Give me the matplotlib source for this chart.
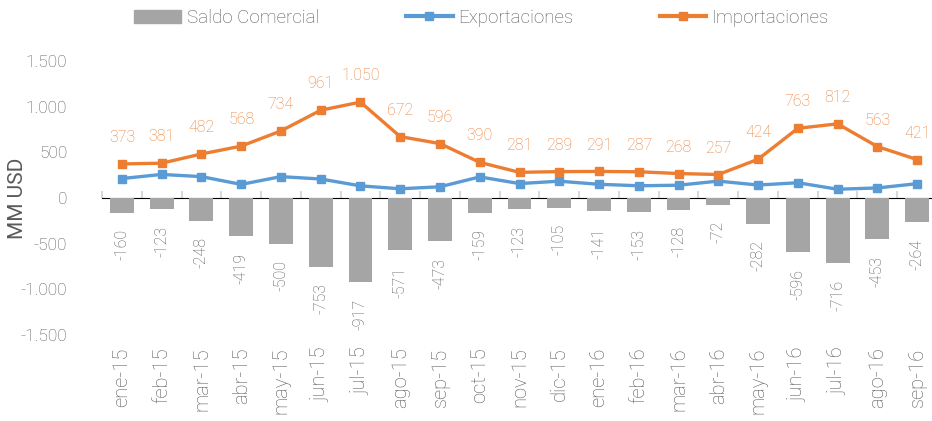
import numpy as np
import matplotlib.pyplot as plt
from matplotlib.patches import Patch
from matplotlib.lines import Line2D

# data (MM USD)
meses = ['ene-15', 'feb-15', 'mar-15', 'abr-15', 'may-15', 'jun-15', 'jul-15',
         'ago-15', 'sep-15', 'oct-15', 'nov-15', 'dic-15', 'ene-16', 'feb-16',
         'mar-16', 'abr-16', 'may-16', 'jun-16', 'jul-16', 'ago-16', 'sep-16']
importaciones = [373, 381, 482, 568, 734, 961, 1050, 672, 596, 390, 281, 289,
                 291, 287, 268, 257, 424, 763, 812, 563, 421]
saldo = [-160, -123, -248, -419, -500, -753, -917, -571, -473, -159, -123, -105,
         -141, -153, -128, -72, -282, -596, -716, -453, -264]
exportaciones = [213, 258, 234, 149, 234, 208, 133, 101, 123, 231, 158, 184,
                 150, 134, 140, 185, 142, 167, 96, 110, 157]

GRIS = '#A5A5A5'
AZUL = '#5B9BD5'
NARANJA = '#ED7D31'
TEXTO = '#595959'

plt.rcParams['font.family'] = ['Roboto', 'DejaVu Sans']
plt.rcParams['font.weight'] = 'light'

fig = plt.figure(figsize=(9.32, 4.21), dpi=100)
ax = fig.add_axes([102 / 932, 1 - 335 / 421, 835 / 932, 274 / 421])

x = np.arange(len(meses))
ax.bar(x, saldo, width=0.6, color=GRIS, zorder=2)
ax.plot(x, exportaciones, color=AZUL, lw=2.4, marker='s', ms=6, zorder=4)
ax.plot(x, importaciones, color=NARANJA, lw=2.4, marker='s', ms=6, zorder=4)

for xi, v in zip(x, importaciones):
    ax.annotate(f'{v:,}'.replace(',', '.'), (xi, v), xytext=(0, 19),
                textcoords='offset points', ha='center', va='center',
                fontsize=11.5, color=NARANJA)
for xi, v in zip(x, saldo):
    ax.annotate(f'{v}', (xi, v), xytext=(0, -12), textcoords='offset points',
                ha='center', va='top', rotation=90, fontsize=11.5, color=TEXTO)

ax.set_xlim(-0.5, len(meses) - 0.5)
ax.set_ylim(-1500, 1500)
ax.set_yticks([-1500, -1000, -500, 0, 500, 1000, 1500])
ax.set_yticklabels(['-1.500', '-1.000', '-500', '0', '500', '1.000', '1.500'])
ax.set_xticks(x)
ax.set_xticklabels(meses, rotation=90)
ax.tick_params(axis='both', length=0, labelcolor=TEXTO)
ax.tick_params(axis='x', pad=9, labelsize=14.5)
ax.tick_params(axis='y', pad=25, labelsize=12.5)
for s in ax.spines.values():
    s.set_visible(False)
ax.set_ylabel('MM USD', fontsize=15, color=TEXTO)
ax.yaxis.set_label_coords(-0.09, 0.5)

# zero axis with category boundary ticks
sec = ax.secondary_xaxis(0.5)
sec.set_xticks(np.arange(len(meses) + 1) - 0.5)
sec.set_xticklabels([])
sec.tick_params(length=5, width=1.5, color='#D9D9D9')
sec.spines['bottom'].set_color('#D9D9D9')
sec.spines['bottom'].set_linewidth(1.8)

handles = [Patch(color=GRIS),
           Line2D([], [], color=AZUL, lw=3, marker='s', ms=6),
           Line2D([], [], color=NARANJA, lw=3, marker='s', ms=6)]
fig.legend(handles, ['Saldo Comercial', 'Exportaciones', 'Importaciones'],
           loc='center', bbox_to_anchor=(0.517, 0.958), ncol=3, frameon=False,
           fontsize=13.5, handlelength=2.5, handletextpad=0.3, columnspacing=4.6,
           labelcolor=TEXTO)

fig.savefig('out.png', dpi=100)
